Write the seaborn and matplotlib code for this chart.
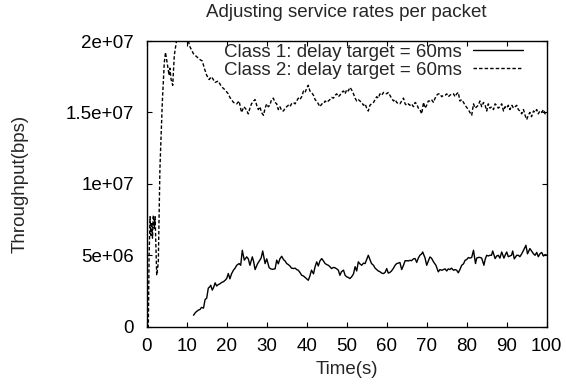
import matplotlib
matplotlib.use("Agg")
import matplotlib.pyplot as plt
import pandas as pd
import seaborn as sns

# Measured throughput per class (time in s, rate in Mbps)
time_c1 = [11.7, 12.2, 12.9, 13.3, 13.7, 14.2, 14.6, 15.0, 15.4, 15.8, 16.0, 16.4, 16.8, 17.1, 17.5,
           17.9, 18.3, 18.75, 19.2, 19.6, 20.0, 20.4, 20.8, 21.2, 21.7, 22.1, 22.5, 23.1, 23.5, 23.9,
           24.4, 25.0, 25.4, 25.8, 26.4, 26.7, 27.1, 27.7, 28.3, 28.6, 29.0, 29.6, 30.0, 30.6, 31.0,
           31.4, 32.1, 32.5, 32.9, 33.3, 33.75, 34.2, 34.6, 35.0, 35.4, 35.8, 36.2, 36.7, 37.1, 37.5,
           37.9, 38.3, 38.75, 39.2, 39.6, 40.0, 40.4, 40.8, 41.2, 41.7, 42.1, 42.5, 42.9, 43.3, 43.75,
           44.2, 44.6, 45.0, 45.4, 45.8, 46.2, 46.7, 47.1, 47.5, 47.9, 48.3, 48.7, 49.2, 49.6, 50.0,
           50.4, 50.8, 51.25, 51.7, 52.1, 52.5, 52.9, 53.3, 53.75, 54.2, 54.6, 55.0, 55.4, 55.8, 56.2,
           56.7, 57.1, 57.5, 57.9, 58.3, 58.75, 59.2, 59.6, 60.0, 60.4, 60.8, 61.2, 61.7, 62.1, 62.5,
           62.9, 63.3, 63.75, 64.2, 64.6, 65.0, 65.4, 65.8, 66.2, 66.7, 67.1, 67.5, 67.9, 68.3, 68.75,
           69.0, 69.6, 70.0, 70.4, 70.8, 71.2, 71.7, 72.3, 72.9, 73.3, 73.75, 74.2, 74.6, 75.0, 75.4,
           75.8, 76.2, 76.7, 77.1, 77.5, 77.9, 78.3, 78.75, 79.2, 79.6, 80.0, 80.4, 80.8, 81.25, 81.7,
           82.2, 82.5, 82.9, 83.3, 83.75, 84.3, 84.6, 85.0, 85.4, 85.8, 86.2, 86.5, 87.1, 87.5, 87.9,
           88.3, 88.75, 89.3, 89.6, 90.0, 90.4, 90.8, 91.2, 91.5, 91.9, 92.5, 92.9, 93.3, 93.75, 94.3,
           94.8, 95.2, 95.8, 96.2, 96.7, 97.1, 97.5, 97.9, 98.3, 98.75, 99.2, 99.6, 100.0]
rate_c1 = [0.8, 1.0, 1.16, 1.2, 1.35, 1.3, 1.9, 2.0, 2.7, 2.8, 2.9, 2.56, 2.8, 3.07, 2.85,
           2.95, 3.0, 3.1, 3.15, 3.25, 3.37, 3.72, 3.35, 3.7, 3.96, 4.1, 4.3, 4.42, 4.3, 5.35,
           4.66, 4.89, 4.75, 4.3, 4.89, 4.6, 4.0, 4.4, 4.66, 4.8, 5.3, 4.42, 4.75, 4.14, 4.05,
           4.02, 4.05, 4.66, 4.4, 4.75, 4.93, 4.7, 4.6, 4.42, 4.35, 4.25, 4.1, 4.07, 4.1, 4.0,
           3.95, 3.8, 3.6, 3.55, 3.45, 3.35, 3.25, 3.55, 3.96, 3.7, 4.2, 4.54, 4.25, 4.6, 4.77,
           4.6, 4.42, 4.35, 4.3, 4.2, 4.07, 4.15, 4.12, 4.05, 3.96, 3.6, 3.85, 3.96, 3.6, 3.49,
           3.45, 3.37, 3.5, 3.7, 4.2, 3.9, 4.54, 4.4, 4.3, 4.45, 4.42, 4.7, 5.0, 4.7, 4.42,
           4.3, 4.1, 4.0, 3.9, 3.85, 3.75, 3.72, 3.8, 4.07, 3.75, 3.8, 3.9, 4.1, 4.3, 4.42,
           4.45, 4.5, 4.0, 4.3, 4.62, 4.62, 4.6, 4.65, 4.62, 4.75, 4.77, 4.5, 4.8, 5.0, 5.1,
           5.23, 4.8, 4.3, 4.6, 4.88, 4.8, 4.54, 4.3, 3.84, 4.0, 3.95, 4.0, 4.05, 3.9, 4.05,
           4.0, 4.1, 3.95, 4.0, 3.95, 3.77, 4.0, 4.3, 4.4, 4.65, 4.7, 4.84, 4.8, 4.85, 5.35,
           4.42, 4.8, 4.85, 4.85, 4.8, 4.3, 4.7, 5.0, 4.95, 5.0, 5.0, 5.3, 4.77, 4.95, 5.0,
           4.8, 5.23, 4.8, 5.0, 5.23, 4.9, 4.95, 5.0, 5.3, 4.75, 5.0, 5.0, 4.9, 5.1, 5.4,
           5.7, 5.1, 5.47, 5.3, 5.1, 5.0, 5.2, 4.9, 5.1, 5.2, 4.95, 5.05, 5.0]

time_c2 = [0.0, 0.4, 0.6, 0.85, 1.05, 1.25, 1.45, 1.65, 1.9, 2.1, 2.5, 2.9, 3.3, 3.9, 4.4,
           4.7, 5.2, 5.6, 5.8, 6.1, 6.5, 6.9, 7.5, 8.0, 8.8, 9.5, 10.2, 10.8, 11.7, 12.5,
           13.3, 13.9, 14.4, 15.0, 15.6, 16.2, 17.1, 17.9, 18.7, 19.5, 20.4, 20.8, 21.7, 22.5, 23.1,
           23.7, 24.3, 24.9, 25.4, 25.8, 26.2, 26.7, 27.1, 27.5, 27.9, 28.3, 28.7, 29.2, 29.6, 30.0,
           30.4, 30.8, 31.2, 31.65, 32.1, 32.5, 32.9, 33.3, 33.8, 34.2, 34.6, 35.0, 35.4, 35.8, 36.2,
           36.7, 37.1, 37.5, 37.9, 38.3, 38.75, 39.2, 39.6, 40.0, 40.4, 40.8, 41.2, 41.7, 42.1, 42.7,
           43.3, 43.8, 44.2, 44.6, 45.0, 45.4, 45.8, 46.2, 46.7, 47.1, 47.5, 47.9, 48.3, 48.7, 49.2,
           49.6, 50.0, 50.4, 50.8, 51.2, 51.7, 52.1, 52.5, 52.9, 53.3, 53.75, 54.2, 54.6, 55.0, 55.4,
           55.8, 56.2, 56.7, 57.1, 57.5, 57.9, 58.3, 58.75, 59.2, 59.6, 60.0, 60.4, 60.8, 61.2, 61.7,
           62.1, 62.5, 62.9, 63.3, 63.75, 64.2, 64.6, 65.0, 65.4, 65.8, 66.2, 66.7, 67.1, 67.5, 67.9,
           68.3, 68.75, 69.2, 69.6, 70.0, 70.4, 70.8, 71.2, 71.7, 72.1, 72.5, 72.9, 73.3, 73.75, 74.2,
           74.6, 75.0, 75.4, 75.8, 76.25, 76.7, 77.1, 77.5, 77.9, 78.3, 78.75, 79.2, 79.6, 80.0, 80.4,
           80.8, 81.25, 81.7, 82.1, 82.5, 82.9, 83.3, 83.75, 84.2, 84.6, 85.0, 85.4, 85.8, 86.25, 86.7,
           87.1, 87.5, 87.9, 88.3, 88.75, 89.2, 89.6, 90.0, 90.4, 90.8, 91.3, 91.7, 92.1, 92.5, 92.9,
           93.3, 93.75, 94.2, 94.6, 95.0, 95.4, 95.8, 96.2, 96.7, 97.1, 97.5, 97.9, 98.3, 98.75, 99.2,
           99.6, 100.0]
rate_c2 = [0.0, 0.0, 5.0, 7.7, 6.4, 7.3, 6.2, 7.8, 6.9, 7.7, 3.6, 4.5, 11.0, 15.7, 18.5,
           19.2, 18.3, 17.6, 18.1, 17.3, 16.9, 19.0, 20.1, 20.6, 20.3, 20.7, 20.2, 19.6, 19.1, 18.9,
           18.7, 18.6, 18.1, 17.6, 17.3, 17.5, 17.1, 17.2, 16.8, 16.6, 16.3, 16.05, 15.7, 15.6, 15.8,
           15.0, 15.4, 15.2, 14.9, 15.3, 15.6, 15.8, 15.9, 15.5, 15.2, 15.4, 15.0, 14.8, 15.3, 15.6,
           15.4, 15.5, 15.9, 16.0, 15.7, 15.6, 15.2, 15.4, 15.1, 15.1, 15.3, 15.4, 15.5, 15.4, 15.6,
           15.7, 15.6, 15.8, 16.0, 15.9, 16.1, 16.5, 16.4, 16.7, 16.9, 16.5, 16.4, 16.2, 15.9, 15.7,
           15.4, 15.6, 15.6, 15.8, 15.7, 15.8, 15.9, 16.05, 16.0, 16.2, 16.3, 16.1, 16.2, 16.4, 16.5,
           16.3, 16.6, 16.5, 16.75, 16.6, 16.3, 16.0, 15.8, 15.9, 15.8, 15.7, 15.5, 15.6, 15.3, 15.1,
           15.5, 15.6, 15.7, 15.9, 16.1, 16.0, 16.3, 16.2, 16.4, 16.4, 16.3, 16.4, 16.2, 16.0, 15.8,
           15.9, 15.7, 15.6, 15.6, 15.8, 16.0, 15.6, 15.5, 15.6, 15.5, 15.6, 15.4, 15.7, 15.6, 15.3,
           15.2, 14.9, 15.7, 15.3, 15.5, 15.8, 15.8, 15.9, 15.7, 16.0, 16.2, 16.3, 16.3, 16.1, 16.2,
           16.2, 16.3, 16.1, 16.2, 16.3, 16.3, 16.1, 16.3, 16.4, 15.8, 15.9, 15.7, 15.5, 15.35, 15.2,
           15.0, 14.8, 15.6, 15.3, 15.4, 15.5, 15.8, 15.4, 15.7, 15.5, 15.1, 15.6, 15.3, 15.4, 15.2,
           15.6, 15.5, 15.3, 15.4, 15.6, 15.1, 15.4, 15.3, 15.5, 15.2, 15.5, 15.3, 15.4, 15.5, 15.2,
           15.1, 14.9, 15.2, 14.8, 14.5, 14.8, 15.0, 14.7, 15.1, 15.0, 15.2, 14.9, 15.1, 15.0, 15.2,
           14.9, 15.0]

series_labels = ["Class 1: delay target = 60ms", "Class 2: delay target = 60ms"]
x_ticks = [0, 10, 20, 30, 40, 50, 60, 70, 80, 90, 100]
y_ticks = [0, 5e6, 1e7, 1.5e7, 2e7]
y_tick_labels = ["0", "5e+06", "1e+07", "1.5e+07", "2e+07"]

df_c1 = pd.DataFrame({"Time": time_c1, "Throughput": [v * 1e6 for v in rate_c1]})
df_c2 = pd.DataFrame({"Time": time_c2, "Throughput": [v * 1e6 for v in rate_c2]})

sns.set_theme(style="ticks")
plt.rcParams["font.family"] = ["Liberation Sans", "DejaVu Sans"]
FS = 13.5

W, H = 566, 390
fig = plt.figure(figsize=(W / 100, H / 100), dpi=100)
left, right, top, bottom = 146.7, 546.7, 41.0, 326.7
ax = fig.add_axes([left / W, 1 - bottom / H, (right - left) / W, (bottom - top) / H])

sns.lineplot(data=df_c1, x="Time", y="Throughput", ax=ax, color="black", lw=1.0,
             estimator=None, sort=False, label=series_labels[0], legend=False)
sns.lineplot(data=df_c2, x="Time", y="Throughput", ax=ax, color="black", lw=1.0,
             estimator=None, sort=False, label=series_labels[1], legend=False,
             linestyle=(0, (2.5, 1.5)))

ax.set_xlim(0, 100)
ax.set_ylim(0, 2e7)
ax.set_xticks(x_ticks)
ax.set_xticklabels([str(t) for t in x_ticks])
ax.set_yticks(y_ticks)
ax.set_yticklabels(y_tick_labels)
ax.set_xlabel("")
ax.set_ylabel("")
ax.tick_params(direction="in", top=True, right=True, length=3.4, width=0.8,
               labelsize=FS, colors="black")
ax.tick_params(axis="y", pad=9)
ax.tick_params(axis="x", pad=8)
for sp in ax.spines.values():
    sp.set_visible(True)
    sp.set_color("black")
    sp.set_linewidth(1.0)

handles = ax.get_lines()[:2]
ax.legend(handles, series_labels, loc="upper right", bbox_to_anchor=(0.9415, 0.99),
          frameon=False, markerfirst=False, fontsize=FS, handlelength=2.7,
          handletextpad=0.6, borderpad=0, borderaxespad=0, labelspacing=0.05)

fig.text(346.7 / W, 1 - 12.6 / H, "Adjusting service rates per packet",
         ha="center", va="center", fontsize=FS)
fig.text(346.7 / W, 1 - 370 / H, "Time(s)", ha="center", va="center", fontsize=FS)
fig.text(20 / W, 1 - 183.9 / H, "Throughput(bps)", ha="center", va="center",
         rotation=90, fontsize=FS)

fig.savefig("out.png", dpi=100, facecolor="white")
